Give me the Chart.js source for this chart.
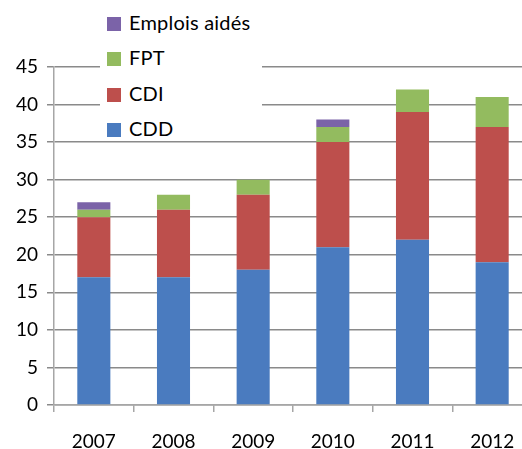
<!DOCTYPE html>
<html>
<head>
<meta charset="utf-8">
<script src="https://cdn.jsdelivr.net/npm/chart.js@4"></script>
<style>
  html, body { margin: 0; padding: 0; background: #fff; overflow: hidden; }
  #wrap { position: relative; width: 540px; height: 449px; }
  #legend { position: absolute; left: 100px; top: 0; width: 162px; height: 140px; background: #fff;
            font-family: Lato, sans-serif; font-size: 20px; letter-spacing: 0.2px; color: #000; }
  .item { position: absolute; left: 7px; height: 20px; line-height: 20px; white-space: nowrap; }
  .item span { display: inline-block; width: 14px; height: 14px; margin-right: 8px; vertical-align: -1px; }
</style>
</head>
<body>
<div id="wrap">
  <canvas id="myChart" width="540" height="449"></canvas>
  <div id="legend"></div>
</div>
<script>
const years = ['2007', '2008', '2009', '2010', '2011', '2012'];
const cdd = [17, 17, 18, 21, 22, 19];
const cdi = [8, 9, 10, 14, 17, 18];
const fpt = [1, 2, 2, 2, 3, 4];
const emplois = [1, 0, 0, 1, 0, 0];
const yTicks = [0, 5, 10, 15, 20, 25, 30, 35, 40, 45];

const seriesNames = ['CDD', 'CDI', 'FPT', 'Emplois aidés'];
const seriesColors = ['#4a7bbf', '#bd4f4c', '#93bb5f', '#7b63a8'];
const seriesData = [cdd, cdi, fpt, emplois];

const font = { family: 'Lato, sans-serif', size: 19 };

var ctx = document.getElementById('myChart');
var myChart = new Chart(ctx, {
  type: 'bar',
  data: {
    labels: years,
    datasets: seriesData.map(function (d, i) {
      return {
        label: seriesNames[i],
        data: d,
        backgroundColor: seriesColors[i],
        borderWidth: 0,
        categoryPercentage: 1,
        barPercentage: 0.415
      };
    })
  },
  options: {
    responsive: false,
    animation: false,
    layout: { padding: { top: 67, right: 8, left: 0, bottom: 0 } },
    plugins: {
      legend: { display: false },
      tooltip: { enabled: false }
    },
    scales: {
      x: {
        stacked: true,
        offset: true,
        grid: { offset: true, drawOnChartArea: false, drawTicks: true, tickLength: 7, color: '#a6a6a6', lineWidth: 1.5 },
        border: { color: '#a6a6a6', width: 1.5 },
        ticks: { color: '#000', font: font, padding: 18 },
        afterFit: function (s) { s.height = 44; }
      },
      y: {
        stacked: true,
        min: 0,
        max: 45,
        afterBuildTicks: function (s) { s.ticks = yTicks.map(function (v) { return { value: v }; }); },
        grid: { color: '#8a8a8a', lineWidth: 1.5, tickLength: 7 },
        border: { color: '#a6a6a6', width: 1.5 },
        ticks: { color: '#000', font: font, padding: 9 },
        afterFit: function (s) { s.width = 54; }
      }
    }
  }
});

// legend in the plot, last series on top
var legend = document.getElementById('legend');
var rowCenters = [128, 93, 57, 22];
seriesNames.forEach(function (name, i) {
  var div = document.createElement('div');
  div.className = 'item';
  div.style.top = (rowCenters[i] - 10) + 'px';
  div.innerHTML = '<span style="background:' + seriesColors[i] + '"></span>' + name;
  legend.appendChild(div);
});
</script>
</body>
</html>
